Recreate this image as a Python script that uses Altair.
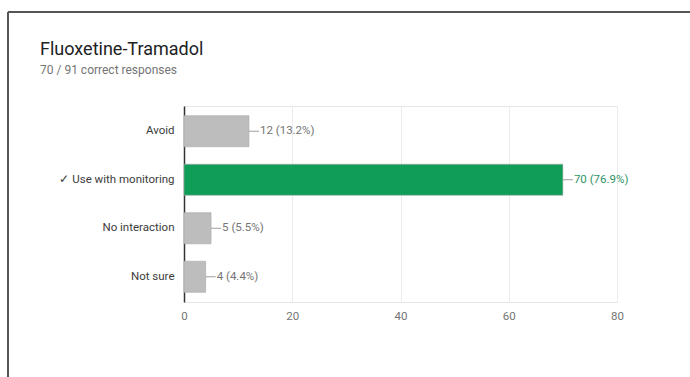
import altair as alt
import pandas as pd

categories = ["Avoid", "✓ Use with monitoring", "No interaction", "Not sure"]
counts = [12, 70, 5, 4]
labels = ["12 (13.2%)", "70 (76.9%)", "5 (5.5%)", "4 (4.4%)"]
correct = ["no", "yes", "no", "no"]
x_ticks = [0, 20, 40, 60, 80]

df = pd.DataFrame({"answer": categories, "count": counts, "label": labels, "correct": correct})

FONT = "Roboto"

y_enc = alt.Y(
    "answer:N",
    sort=categories,
    title=None,
    scale=alt.Scale(paddingInner=0.36, paddingOuter=0.2),
    axis=alt.Axis(
        ticks=False, grid=False, domainColor="#333333", domainWidth=1.5,
        labelColor="#3c3c3c", labelFontSize=11.5, labelPadding=10, labelFont=FONT,
    ),
)
x_enc = alt.X(
    "count:Q",
    title=None,
    scale=alt.Scale(domain=[0, 80], nice=False),
    axis=alt.Axis(
        values=x_ticks, ticks=False, domain=False, grid=True, gridColor="#ececec",
        labelColor="#757575", labelFontSize=11.5, labelPadding=8, labelFont=FONT,
        labelFlush=False,
    ),
)

base = alt.Chart(df)

bars = base.mark_bar(strokeWidth=1, stroke="#a8a8a8", strokeOpacity=0.6).encode(
    x=x_enc,
    y=y_enc,
    color=alt.Color("correct:N", scale=alt.Scale(domain=["no", "yes"], range=["#bdbdbd", "#0f9d58"]), legend=None),
)

leaders = base.transform_calculate(end="datum.count + 1.85").mark_rule(color="#9e9e9e", strokeWidth=1).encode(
    x="count:Q", x2="end:Q", y=alt.Y("answer:N", sort=categories)
)

texts = base.mark_text(align="left", baseline="middle", dx=11, fontSize=11.5, font=FONT).encode(
    x="count:Q",
    y=alt.Y("answer:N", sort=categories),
    text="label:N",
    color=alt.condition(alt.datum.correct == "yes", alt.value("#2e9466"), alt.value("#757575")),
)

top_border = alt.Chart(df).mark_rule(color="#555555", strokeWidth=2).encode(
    x=alt.value(-176), x2=alt.value(506), y=alt.value(-94)
)
left_border = alt.Chart(df).mark_rule(color="#555555", strokeWidth=2).encode(
    x=alt.value(-176), y=alt.value(-94), y2=alt.value(271)
)

chart = alt.layer(bars, leaders, texts, top_border, left_border).properties(
    width=433,
    height=196,
    autosize=alt.AutoSizeParams(type="none"),
    padding={"left": 184, "top": 106, "right": 73, "bottom": 75},
    title=alt.TitleParams(
        text="Fluoxetine-Tramadol",
        subtitle="70 / 91 correct responses",
        anchor="start",
        frame="group",
        dx=-144,
        dy=93,
        offset=28,
        font=FONT,
        fontSize=18,
        fontWeight="normal",
        color="#202124",
        subtitleFont=FONT,
        subtitleFontSize=12,
        subtitleColor="#757575",
        subtitlePadding=6,
    ),
).configure_view(stroke="#e6e6e6", strokeWidth=1)

chart.save("out.html", embed_options={"renderer": "svg", "actions": False})
